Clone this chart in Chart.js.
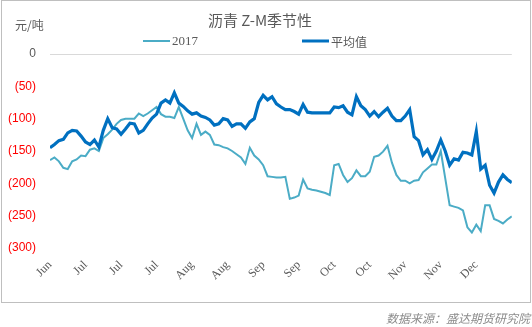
<!DOCTYPE html>
<html>
<head>
<meta charset="utf-8">
<script src="https://cdn.jsdelivr.net/npm/chart.js"></script>
<style>
  html, body { margin: 0; padding: 0; background: #fff; }
  canvas { display: block; }
</style>
</head>
<body>
<canvas id="myChart" width="532" height="327"></canvas>
<script>
// tick labels shown every 8 points along the x axis
const tickLabels = ["Jun", "Jul", "Jul", "Jul", "Aug", "Aug", "Sep", "Sep", "Oct", "Oct", "Nov", "Nov", "Dec"];
const labelEvery = 8;

// 2017 series (yuan/ton)
const series2017 = [
  -164, -160, -166, -176, -178, -166, -163, -157, -158, -148,
  -146, -150, -130, -124, -117, -108, -102, -100, -100, -100,
  -92, -96, -92, -87, -82, -93, -97, -97, -99, -82,
  -100, -118, -130, -108, -125, -120, -125, -140, -141, -144,
  -146, -150, -155, -160, -170, -145, -157, -163, -172, -189,
  -190, -191, -191, -190, -224, -222, -219, -194, -208, -210,
  -211, -213, -215, -218, -172, -170, -187, -198, -192, -180,
  -189, -189, -182, -159, -157, -151, -142, -168, -187, -196,
  -196, -200, -196, -195, -183, -177, -171, -171, -150, -192,
  -234, -236, -238, -242, -268, -276, -264, -274, -234, -234,
  -255, -258, -262, -256, -251
];

// average series (yuan/ton)
const seriesAvg = [
  -145, -140, -134, -132, -122, -118, -119, -127, -136, -140,
  -133, -144, -118, -100, -114, -116, -124, -116, -107, -108,
  -122, -118, -108, -99, -93, -76, -71, -76, -60, -76,
  -81, -88, -93, -91, -96, -98, -102, -110, -108, -100,
  -102, -112, -108, -108, -115, -105, -100, -75, -64, -71,
  -66, -77, -82, -86, -86, -89, -93, -78, -90, -91,
  -91, -91, -91, -91, -82, -83, -80, -90, -94, -66,
  -80, -86, -96, -89, -97, -90, -84, -96, -103, -103,
  -96, -86, -128, -134, -156, -148, -163, -150, -133, -150,
  -172, -162, -164, -152, -153, -156, -120, -178, -172, -203,
  -215, -198, -187, -194, -199
];

const seriesNames = ["2017", "平均值"];
const seriesColors = ["#4BACC6", "#0070C0"];

function toPoints(values) {
  return values.map((v, i) => ({ x: i, y: v }));
}

// Draws the frame, title, unit, legend and source note
const decorPlugin = {
  id: "decor",
  beforeDraw(chart) {
    const ctx = chart.ctx;
    ctx.save();
    ctx.fillStyle = "#fff";
    ctx.fillRect(0, 0, chart.width, chart.height);
    ctx.strokeStyle = "#BFBFBF";
    ctx.lineWidth = 1;
    ctx.strokeRect(1.5, 0.5, 529, 302);
    ctx.restore();
  },
  afterDraw(chart) {
    const ctx = chart.ctx;
    ctx.save();
    ctx.fillStyle = "#595959";
    ctx.textBaseline = "middle";

    ctx.font = "15px 'Noto Sans CJK SC'";
    ctx.textAlign = "center";
    ctx.fillText("沥青 Z-M季节性", 260, 20);

    ctx.font = "12px 'Noto Sans CJK SC'";
    ctx.textAlign = "left";
    ctx.fillText("元/吨", 15, 25);

    // legend
    const legendX = [143, 302];
    for (let k = 0; k < seriesNames.length; k++) {
      ctx.strokeStyle = seriesColors[k];
      ctx.lineWidth = k === 0 ? 2 : 3;
      ctx.beginPath();
      ctx.moveTo(legendX[k], 41);
      ctx.lineTo(legendX[k] + 27, 41);
      ctx.stroke();
      ctx.fillStyle = "#595959";
      ctx.font = k === 0 ? "13px 'Liberation Serif'" : "12px 'Noto Sans CJK SC'";
      ctx.fillText(seriesNames[k], legendX[k] + 29, 42);
    }

    // source note
    ctx.font = "italic 12px 'Noto Sans CJK SC'";
    ctx.fillStyle = "#8C8C8C";
    ctx.textAlign = "right";
    ctx.fillText("数据来源：盛达期货研究院", 530, 318);
    ctx.restore();
  }
};

const ctx = document.getElementById("myChart");
const chart = new Chart(ctx, {
  type: "line",
  data: {
    datasets: [
      {
        label: seriesNames[0],
        data: toPoints(series2017),
        borderColor: seriesColors[0],
        borderWidth: 2,
        pointRadius: 0,
        tension: 0,
        order: 1
      },
      {
        label: seriesNames[1],
        data: toPoints(seriesAvg),
        borderColor: seriesColors[1],
        borderWidth: 3.2,
        pointRadius: 0,
        tension: 0,
        order: 0
      }
    ]
  },
  options: {
    responsive: false,
    animation: false,
    devicePixelRatio: 1,
    layout: { padding: { top: 54, right: 19, bottom: 0, left: 0 } },
    plugins: {
      legend: { display: false },
      title: { display: false },
      tooltip: { enabled: false }
    },
    scales: {
      x: {
        type: "linear",
        min: 0,
        max: seriesAvg.length - 1,
        afterFit: (scale) => { scale.height = 79; },
        grid: { display: false, drawTicks: false },
        border: { display: false },
        ticks: {
          stepSize: labelEvery,
          minRotation: 45,
          maxRotation: 45,
          padding: 10,
          color: "#595959",
          font: { family: "'Liberation Serif'", size: 12 },
          callback: (v) => tickLabels[Math.round(v / labelEvery)] || ""
        }
      },
      y: {
        min: -300,
        max: 0,
        afterFit: (scale) => { scale.width = 50; },
        grid: {
          drawTicks: false,
          color: (c) => (c.tick && c.tick.value === 0 ? "#D9D9D9" : "rgba(0,0,0,0)")
        },
        border: { display: false },
        ticks: {
          stepSize: 50,
          padding: 14,
          color: (c) => (c.tick && c.tick.value < 0 ? "#FF0000" : "#595959"),
          font: { family: "'Liberation Sans'", size: 12 },
          callback: (v) => (v === 0 ? "0" : "(" + (-v) + ")")
        }
      }
    }
  },
  plugins: [decorPlugin]
});
</script>
</body>
</html>
